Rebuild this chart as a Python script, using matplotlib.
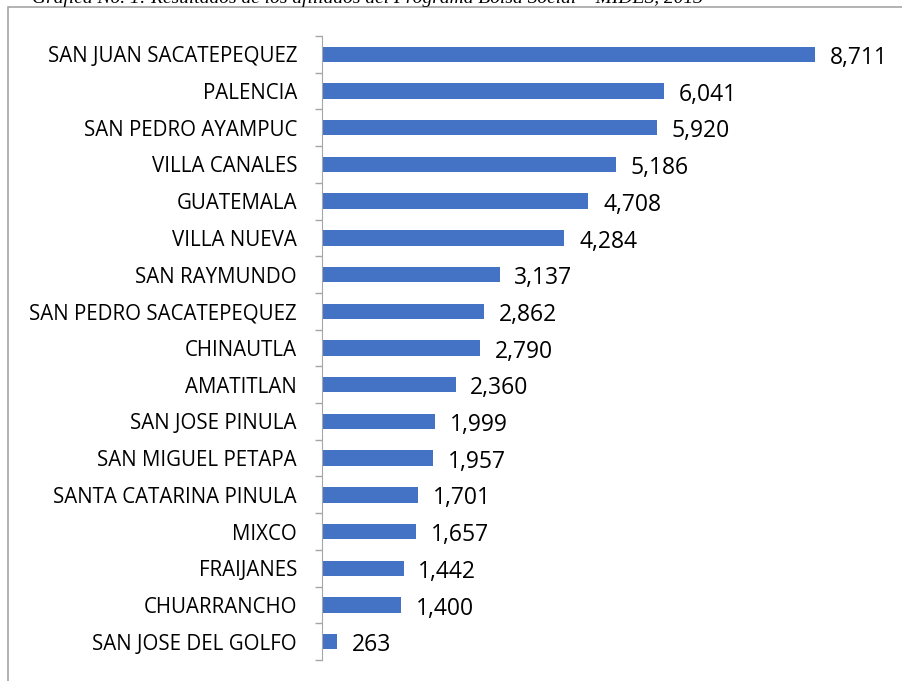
import matplotlib
matplotlib.use('Agg')
import matplotlib.pyplot as plt
from matplotlib.patches import Rectangle

municipios = [
    'SAN JUAN SACATEPEQUEZ', 'PALENCIA', 'SAN PEDRO AYAMPUC', 'VILLA CANALES',
    'GUATEMALA', 'VILLA NUEVA', 'SAN RAYMUNDO', 'SAN PEDRO SACATEPEQUEZ',
    'CHINAUTLA', 'AMATITLAN', 'SAN JOSE PINULA', 'SAN MIGUEL PETAPA',
    'SANTA CATARINA PINULA', 'MIXCO', 'FRAIJANES', 'CHUARRANCHO',
    'SAN JOSE DEL GOLFO',
]
afiliados = [8711, 6041, 5920, 5186, 4708, 4284, 3137, 2862, 2790, 2360,
             1999, 1957, 1701, 1657, 1442, 1400, 263]

W, H = 902, 681
fig = plt.figure(figsize=(W / 100, H / 100), dpi=100)

# outer frame of the chart box (runs off the right and bottom edges)
fig.patches.append(Rectangle((8 / W, -0.05), 1.0, 1 - 7 / H + 0.05,
                             transform=fig.transFigure, fill=False,
                             edgecolor='#a6a6a6', linewidth=1.2))

# title line, mostly cut off at the top of the image
fig.text(0.035, 1 - 3 / H, 'Gráfica No. 1: Resultados de los afiliados del Programa Bolsa Social – MIDES, 2013',
         fontsize=14, style='italic', family='Liberation Serif', va='baseline')

ax = fig.add_axes([322 / W, 1 - 660 / H, (885 - 322) / W, (660 - 36) / H])
n = len(municipios)
ypos = list(range(n))
ax.barh(ypos, afiliados, height=0.42, color='#4472C4')
ax.set_ylim(n - 0.5, -0.5)
ax.set_xlim(0, 8711 * (885 - 322) / (815 - 322))

ax.set_yticks([i - 0.5 for i in range(n + 1)], minor=False)
ax.set_yticklabels([])
ax.set_yticks(ypos, minor=True)
ax.set_yticklabels(municipios, minor=True, fontsize=14.8, family='Open Sans')
ax.tick_params(axis='y', which='major', length=5, color='#a6a6a6', width=1)
ax.tick_params(axis='y', which='minor', length=0, pad=18)
ax.set_xticks([])
for s in ['top', 'right', 'bottom']:
    ax.spines[s].set_visible(False)
ax.spines['left'].set_color('#a6a6a6')

for y, v in zip(ypos, afiliados):
    ax.text(v + 260, y + 0.1, f'{v:,}', va='center', ha='left',
            fontsize=16.5, family='Open Sans')

fig.savefig('out.png', dpi=100)
